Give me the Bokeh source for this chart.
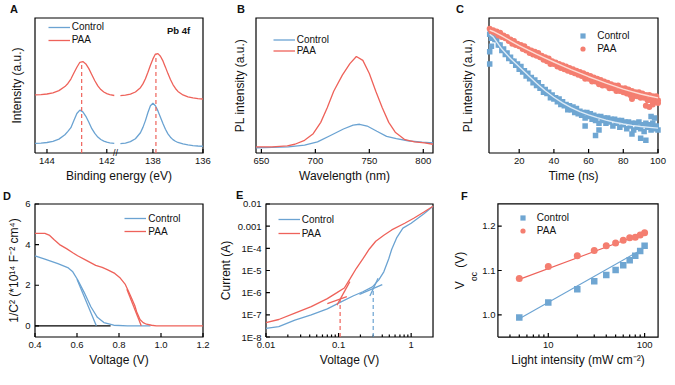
import numpy as np
from bokeh.plotting import figure
from bokeh.models import Range1d, FixedTicker, Label, Legend, LegendItem, Title
from bokeh.layouts import row, column
from bokeh.core.properties import value
from bokeh.embed import file_html
from bokeh.resources import INLINE

# ------------------------------------------------------------------ data
a_be_left = [144.4, 144.2, 144.0, 143.8, 143.6, 143.4, 143.3, 143.2, 143.1, 143.0, 142.9,
             142.8, 142.7, 142.6, 142.5, 142.4, 142.3, 142.2, 142.1, 142.0, 141.9, 141.75]
a_ctrl_left = [0.072, 0.074, 0.078, 0.087, 0.103, 0.135, 0.160, 0.188, 0.240, 0.293, 0.318,
               0.305, 0.272, 0.228, 0.180, 0.145, 0.118, 0.100, 0.088, 0.080, 0.075, 0.071]
a_paa_left = [0.430, 0.432, 0.437, 0.446, 0.462, 0.492, 0.515, 0.548, 0.592, 0.635, 0.672,
              0.677, 0.660, 0.625, 0.580, 0.535, 0.497, 0.470, 0.452, 0.440, 0.432, 0.426]
a_be_right = [139.3, 139.1, 138.9, 138.7, 138.5, 138.4, 138.3, 138.2, 138.1, 138.0, 137.9, 137.8,
              137.7, 137.6, 137.5, 137.4, 137.3, 137.2, 137.1, 137.0, 136.8, 136.6, 136.4, 136.2, 136.0]
a_ctrl_right = [0.070, 0.074, 0.084, 0.106, 0.150, 0.190, 0.240, 0.300, 0.350, 0.368, 0.350, 0.312,
                0.265, 0.218, 0.176, 0.142, 0.117, 0.099, 0.087, 0.078, 0.067, 0.060, 0.055, 0.052, 0.050]
a_paa_right = [0.425, 0.428, 0.436, 0.452, 0.484, 0.512, 0.550, 0.598, 0.650, 0.697, 0.733, 0.736,
               0.717, 0.682, 0.636, 0.588, 0.545, 0.507, 0.478, 0.456, 0.430, 0.416, 0.408, 0.403, 0.400]
a_dash_be = [142.84, 137.88]
a_dash_top = [0.672, 0.733]
a_tick_values = [144, 142, 138, 136]
a_tick_labels = ["144", "142", "138", "136"]

b_wl_paa = [645, 660, 674, 681, 690, 698, 705, 711, 717, 725, 732, 738, 744, 750, 756, 762, 768, 774, 783, 792, 801, 809]
b_paa = [0.046, 0.046, 0.053, 0.065, 0.094, 0.143, 0.227, 0.336, 0.457, 0.577, 0.662, 0.715, 0.686,
         0.589, 0.457, 0.336, 0.227, 0.154, 0.099, 0.082, 0.075, 0.065]
b_wl_ctrl = [645, 660, 675, 690, 702, 714, 726, 735, 741, 748, 757, 766, 775, 787, 799, 809]
b_ctrl = [0.039, 0.042, 0.046, 0.058, 0.082, 0.130, 0.178, 0.207, 0.213, 0.200, 0.161, 0.123, 0.106,
          0.089, 0.080, 0.075]
b_ticks = [650, 700, 750, 800]
b_tick_labels = ["650", "700", "750", "800"]

c_t = list(range(3, 101))
c_ctrl = [0.88, 0.85, 0.87, 0.84, 0.84, 0.80, 0.80, 0.76, 0.77, 0.73,
          0.74, 0.70, 0.71, 0.68, 0.68, 0.65, 0.66, 0.62, 0.64, 0.60,
          0.61, 0.57, 0.59, 0.55, 0.56, 0.52, 0.54, 0.50, 0.52, 0.48,
          0.49, 0.45, 0.47, 0.44, 0.45, 0.41, 0.43, 0.40, 0.41, 0.38,
          0.40, 0.36, 0.38, 0.35, 0.36, 0.32, 0.35, 0.32, 0.34, 0.30,
          0.33, 0.29, 0.31, 0.28, 0.30, 0.26, 0.30, 0.27, 0.29, 0.25,
          0.28, 0.24, 0.27, 0.22, 0.27, 0.24, 0.26, 0.22, 0.26, 0.23,
          0.25, 0.20, 0.25, 0.22, 0.24, 0.19, 0.24, 0.21, 0.23, 0.18,
          0.23, 0.20, 0.22, 0.17, 0.22, 0.19, 0.23, 0.18, 0.21, 0.16,
          0.22, 0.19, 0.21, 0.17, 0.22, 0.18, 0.20, 0.17]
c_ctrl_extra_t = [3, 3, 4, 58, 64, 66, 85, 90, 93, 96, 98]
c_ctrl_extra = [0.75, 0.66, 0.79, 0.20, 0.13, 0.17, 0.14, 0.11, 0.095, 0.27, 0.26]
c_paa = [0.92, 0.90, 0.91, 0.89, 0.90, 0.87, 0.89, 0.86, 0.87, 0.85,
         0.86, 0.83, 0.84, 0.81, 0.83, 0.80, 0.81, 0.79, 0.80, 0.77,
         0.79, 0.76, 0.77, 0.74, 0.76, 0.73, 0.75, 0.72, 0.74, 0.71,
         0.72, 0.69, 0.71, 0.68, 0.70, 0.66, 0.68, 0.66, 0.67, 0.64,
         0.66, 0.63, 0.65, 0.62, 0.64, 0.61, 0.63, 0.60, 0.62, 0.59,
         0.61, 0.58, 0.60, 0.57, 0.59, 0.55, 0.58, 0.55, 0.57, 0.53,
         0.56, 0.53, 0.55, 0.51, 0.54, 0.50, 0.53, 0.50, 0.52, 0.48,
         0.51, 0.48, 0.50, 0.46, 0.50, 0.46, 0.48, 0.45, 0.48, 0.44,
         0.47, 0.43, 0.46, 0.42, 0.45, 0.42, 0.45, 0.41, 0.44, 0.41,
         0.43, 0.39, 0.43, 0.39, 0.42, 0.38, 0.42, 0.39]
c_paa_extra_t = [85, 93, 95, 97, 100]
c_paa_extra = [0.40, 0.35, 0.34, 0.36, 0.37]
c_fit_t = [3, 5, 10, 15, 20, 25, 30, 35, 40, 45, 50, 55, 60, 65, 70, 75, 80, 85, 90, 95, 100]
c_fit_ctrl = [0.88, 0.86, 0.77, 0.70, 0.638, 0.577, 0.517, 0.461, 0.413, 0.372, 0.336, 0.307, 0.283,
              0.262, 0.244, 0.228, 0.215, 0.205, 0.196, 0.190, 0.184]
c_fit_paa = [0.91, 0.90, 0.867, 0.831, 0.795, 0.763, 0.732, 0.703, 0.674, 0.646, 0.618, 0.591, 0.565,
             0.541, 0.517, 0.495, 0.473, 0.455, 0.437, 0.422, 0.408]
c_ticks = [20, 40, 60, 80, 100]
c_tick_labels = ["20", "40", "60", "80", "100"]

d_v_paa = [0.40, 0.447, 0.47, 0.49, 0.517, 0.55, 0.58, 0.603, 0.64, 0.689, 0.72, 0.744, 0.78, 0.806,
           0.83, 0.845, 0.861, 0.875, 0.884, 0.90, 0.915, 0.931, 0.955, 0.978, 1.05, 1.2]
d_paa = [4.55, 4.55, 4.45, 4.25, 4.00, 3.80, 3.60, 3.45, 3.25, 2.98, 2.88, 2.77, 2.58, 2.35,
         2.04, 1.70, 1.33, 1.00, 0.70, 0.31, 0.16, 0.08, 0.03, 0.0, 0.0, 0.0]
d_v_ctrl = [0.40, 0.447, 0.509, 0.556, 0.58, 0.603, 0.634, 0.666, 0.697, 0.728, 0.775, 0.84, 0.95]
d_ctrl = [3.45, 3.29, 3.06, 2.87, 2.66, 2.27, 1.65, 0.94, 0.42, 0.16, 0.03, 0.0, 0.0]
d_fit_ctrl_v = [0.600, 0.692]
d_fit_ctrl = [2.30, 0.0]
d_fit_paa_v = [0.8375, 0.906]
d_fit_paa = [1.80, 0.0]
d_zero_v = [0.40, 0.76]
d_zero = [0.0, 0.0]
d_xticks = [0.4, 0.6, 0.8, 1.0, 1.2]
d_xlabels = ["0.4", "0.6", "0.8", "1.0", "1.2"]
d_yticks = [0, 2, 4, 6]

e_v_paa = [0.01, 0.015, 0.025, 0.042, 0.07, 0.095, 0.12, 0.143, 0.175, 0.216, 0.264, 0.325, 0.42,
           0.54, 0.815, 1.1, 1.5, 2.0]
e_paa = [4.47e-8, 6.17e-8, 1.20e-7, 2.34e-7, 5.37e-7, 1.00e-6, 1.62e-6, 4.07e-6, 1.23e-5, 3.31e-5,
         9.12e-5, 2.09e-4, 3.89e-4, 6.76e-4, 1.35e-3, 2.34e-3, 4.37e-3, 7.94e-3]
e_v_ctrl = [0.01, 0.015, 0.025, 0.042, 0.07, 0.105, 0.158, 0.216, 0.293, 0.358, 0.42, 0.49, 0.54,
            0.63, 0.77, 1.0, 1.5, 2.0]
e_ctrl = [2.45e-8, 2.95e-8, 5.75e-8, 1.00e-7, 1.86e-7, 3.63e-7, 7.08e-7, 1.10e-6, 1.82e-6, 3.80e-6,
          8.71e-6, 3.31e-5, 9.12e-5, 2.95e-4, 8.13e-4, 1.35e-3, 3.63e-3, 7.94e-3]
e_fit_paa_ohm_v = [0.07, 0.13]
e_fit_paa_ohm = [3.24e-7, 6.60e-7]
e_fit_paa_tfl_v = [0.095, 0.143]
e_fit_paa_tfl = [2.75e-7, 3.16e-6]
e_fit_ctrl_ohm_v = [0.194, 0.40]
e_fit_ctrl_ohm = [8.30e-7, 2.29e-6]
e_fit_ctrl_tfl_v = [0.27, 0.35]
e_fit_ctrl_tfl = [7.08e-7, 4.47e-6]
e_vtfl = [0.105, 0.30]
e_vtfl_top = [5.0e-7, 1.5e-6]
e_xticks = [0.01, 0.1, 1.0]
e_xlabels = ["0.01", "0.1", "1"]
e_xminor = [0.02, 0.03, 0.04, 0.05, 0.06, 0.07, 0.08, 0.09, 0.2, 0.3, 0.4, 0.5, 0.6, 0.7, 0.8, 0.9]
e_yticks = [1e-8, 1e-7, 1e-6, 1e-5, 1e-4, 1e-3, 1e-2]
e_ylabels = ["1E-8", "1E-7", "1E-6", "1E-5", "1E-4", "0.001", "0.01"]

f_light = [5, 10, 20, 30, 40, 50, 60, 70, 80, 90, 100]
f_ctrl = [0.994, 1.028, 1.058, 1.076, 1.090, 1.101, 1.112, 1.123, 1.133, 1.144, 1.156]
f_paa = [1.082, 1.109, 1.133, 1.145, 1.156, 1.162, 1.168, 1.174, 1.175, 1.180, 1.185]
f_fit_x = [5, 100]
f_fit_ctrl = [0.991, 1.151]
f_fit_paa = [1.080, 1.185]
f_xticks = [10, 100]
f_xlabels = ["10", "100"]
f_xminor = [4, 5, 6, 7, 8, 9, 20, 30, 40, 50, 60, 70, 80, 90]
f_yticks = [1.0, 1.1, 1.2]
f_ylabels = ["1.0", "1.1", "1.2"]

# ------------------------------------------------------------------ style
FONT = "Liberation Sans"
BLUE = "#6BA3D2"
RED = "#EE625A"
BLUE_PT = "#6FA6D2"
RED_PT = "#F47E70"
BLUE_FIT = "#DCEAF6"
RED_FIT = "#FDDCD5"
INK = "#111111"
LW = 1.3
BOX_W = 1.2
NB = "\u00a0"


class Axis1D:
    """Maps pixel offsets to data offsets for one (slightly padded) dimension."""

    def __init__(self, lo, hi, npx, log=False, pad=1.5):
        self.lo, self.hi, self.log = float(lo), float(hi), log
        a, b = (np.log10(lo), np.log10(hi)) if log else (float(lo), float(hi))
        self.per_px = (b - a) / (npx - 2 * pad)
        d = self.per_px * pad
        if log:
            self.range = Range1d(float(10 ** (a - d)), float(10 ** (b + d)))
        else:
            self.range = Range1d(float(a - d), float(b + d))

    def shift(self, v, px):
        if self.log:
            return float(10 ** (np.log10(v) + px * self.per_px))
        return float(v + px * self.per_px)


def styled(width, height, left, right, top, bottom, xa, ya):
    p = figure(width=width, height=height, x_range=xa.range, y_range=ya.range,
               x_axis_type="log" if xa.log else "linear",
               y_axis_type="log" if ya.log else "linear",
               output_backend="svg", toolbar_location=None,
               min_border_left=left, min_border_right=right,
               min_border_top=top, min_border_bottom=bottom)
    p.outline_line_color = None
    p.xgrid.visible = False
    p.ygrid.visible = False
    for ax in p.axis:
        ax.axis_line_color = None
        ax.major_tick_line_color = None
        ax.minor_tick_line_color = None
        ax.major_tick_in = 0
        ax.major_tick_out = 0
        ax.minor_tick_in = 0
        ax.minor_tick_out = 0
        ax.major_label_text_font = FONT
        ax.major_label_text_font_size = "9.5px"
        ax.major_label_text_color = INK
        ax.major_label_standoff = 3
        ax.axis_label_text_font = FONT
        ax.axis_label_text_font_size = "12px"
        ax.axis_label_text_font_style = "normal"
        ax.axis_label_text_color = INK
        ax.axis_label_standoff = 2
    return p


def blank_yaxis(p, mid, label_standoff):
    """A y axis that shows only its title (one blank tick label keeps the layout regular)."""
    p.yaxis.ticker = FixedTicker(ticks=[mid])
    p.yaxis.major_label_overrides = {mid: NB}
    p.yaxis.major_label_standoff = 0
    p.yaxis.axis_label_standoff = label_standoff


def frame_ticks(p, xa, ya, xt=(), yt=(), xm=()):
    """Axis box (closed polyline) plus inward tick marks, drawn on the plot scales."""
    xt = [float(v) for v in xt]
    yt = [float(v) for v in yt]
    xm = [float(v) for v in xm]
    p.line(x=[xa.lo, xa.hi, xa.hi, xa.lo, xa.lo], y=[ya.lo, ya.lo, ya.hi, ya.hi, ya.lo],
           line_color="#000000", line_width=BOX_W, line_join="miter")
    for v in xt:
        p.line(x=[v, v], y=[ya.lo, ya.shift(ya.lo, 4)], line_color="#000000", line_width=BOX_W)
    for v in xm:
        p.line(x=[v, v], y=[ya.lo, ya.shift(ya.lo, 2.5)], line_color="#000000", line_width=BOX_W)
    for v in yt:
        p.line(x=[xa.lo, xa.shift(xa.lo, 4)], y=[v, v], line_color="#000000", line_width=BOX_W)


def add_legend(p, items, vx, vy, gw, gh, spacing, standoff):
    leg = Legend(items=[LegendItem(label=l, renderers=[r]) for l, r in items],
                 location=(vx, vy), orientation="vertical",
                 glyph_width=gw, glyph_height=gh, label_height=gh, label_width=10,
                 spacing=spacing, padding=0, margin=0, label_standoff=standoff,
                 border_line_color=None, background_fill_alpha=0,
                 label_text_font=FONT, label_text_font_size="10px", label_text_color=INK)
    p.add_layout(leg)


def letter(p, txt, offset, standoff):
    p.title.text = txt
    p.title.align = "left"
    p.title.offset = offset
    p.title.standoff = standoff
    p.title.text_font = FONT
    p.title.text_font_size = "11px"
    p.title.text_font_style = "bold"
    p.title.text_color = INK


def overrides(ticks, labels):
    return {t: l for t, l in zip(ticks, labels)}


ROW1_PAD = 3.5

# ------------------------------------------------------------------ A
def a_map(be):
    be = np.asarray(be, dtype=float)
    return np.where(be > 140.6, (144.4 - be) * 30.5, 82.0 + (139.5 - be) * 25.5)


xA, yA = Axis1D(0, 171.3, 175, pad=ROW1_PAD), Axis1D(0, 1, 143, pad=ROW1_PAD)
pA = styled(225, 185, 31, 19, 13, 29, xA, yA)
a_tick_pos = [float(v) for v in a_map(a_tick_values)]
pA.xaxis.ticker = FixedTicker(ticks=a_tick_pos)
pA.xaxis.major_label_overrides = overrides(a_tick_pos, a_tick_labels)
pA.xaxis.major_label_standoff = 1
blank_yaxis(pA, 0.5, 2)
pA.xaxis.axis_label = "Binding energy (eV)"
pA.yaxis.axis_label = "Intensity (a.u.)"
frame_ticks(pA, xA, yA, xt=a_tick_pos)
rAc = pA.line(a_map(a_be_left), a_ctrl_left, line_color=BLUE, line_width=LW)
pA.line(a_map(a_be_right), a_ctrl_right, line_color=BLUE, line_width=LW)
rAp = pA.line(a_map(a_be_left), a_paa_left, line_color=RED, line_width=LW)
pA.line(a_map(a_be_right), a_paa_right, line_color=RED, line_width=LW)
a_dash_x = [float(v) for v in a_map(a_dash_be)]
pA.segment(x0=a_dash_x, y0=[0.0, 0.0], x1=a_dash_x, y1=a_dash_top, line_color=RED,
           line_width=1.2, line_dash="4 3")
pA.text(x=[82.2], y=[0.0], text=["//"], text_font=value(FONT), text_font_size="9px",
        text_color=INK, text_align="center", text_baseline="middle")
pA.add_layout(Label(x=147, y=126, x_units="screen", y_units="screen", text="Pb 4f",
                    text_font=FONT, text_font_size="9.5px", text_font_style="bold",
                    text_color=INK, text_align="center", text_baseline="middle"))
add_legend(pA, [("Control", rAc), ("PAA", rAp)], 16.7, 110.3, 22, 12, 1, 2)
letter(pA, "A", -21.6, 0)

# ------------------------------------------------------------------ B
xB, yB = Axis1D(645, 809, 184, pad=ROW1_PAD), Axis1D(0, 1, 143, pad=ROW1_PAD)
pB = styled(225, 185, 27, 14, 13, 29, xB, yB)
pB.xaxis.ticker = FixedTicker(ticks=b_ticks)
pB.xaxis.major_label_overrides = overrides(b_ticks, b_tick_labels)
pB.xaxis.major_label_standoff = 1
blank_yaxis(pB, 0.5, 0)
pB.xaxis.axis_label = "Wavelength (nm)"
pB.yaxis.axis_label = "PL intensity (a.u.)"
frame_ticks(pB, xB, yB, xt=b_ticks)
rBc = pB.line(b_wl_ctrl, b_ctrl, line_color=BLUE, line_width=LW)
rBp = pB.line(b_wl_paa, b_paa, line_color=RED, line_width=LW)
add_legend(pB, [("Control", rBc), ("PAA", rBp)], 20.7, 99.9, 22, 11, 0, 2)
letter(pB, "B", -15.6, 0)

# ------------------------------------------------------------------ C
xC, yC = Axis1D(2.6, 100, 176, pad=ROW1_PAD), Axis1D(0, 1, 143, pad=ROW1_PAD)
pC = styled(225, 185, 35, 14, 13, 29, xC, yC)
pC.xaxis.ticker = FixedTicker(ticks=c_ticks)
pC.xaxis.major_label_overrides = overrides(c_ticks, c_tick_labels)
pC.xaxis.major_label_standoff = 1
blank_yaxis(pC, 0.5, 5)
pC.xaxis.axis_label = "Time (ns)"
pC.yaxis.axis_label = "PL intensity (a.u.)"
frame_ticks(pC, xC, yC, xt=c_ticks)
rCc = pC.scatter(c_t + c_ctrl_extra_t, c_ctrl + c_ctrl_extra, marker="square", size=5.5,
                 fill_color=BLUE_PT, line_color=None)
rCp = pC.scatter(c_t + c_paa_extra_t, c_paa + c_paa_extra, marker="circle", size=6,
                 fill_color=RED_PT, line_color=None)
pC.line(c_fit_t, c_fit_ctrl, line_color=BLUE_FIT, line_width=1.4)
pC.line(c_fit_t, c_fit_paa, line_color=RED_FIT, line_width=1.4)
add_legend(pC, [("Control", rCc), ("PAA", rCp)], 91.2, 101.5, 13, 13, 0, 8)
letter(pC, "C", -29.6, 0)

# ------------------------------------------------------------------ D
xD, yD = Axis1D(0.4, 1.2, 171), Axis1D(-0.55, 6, 138)
pD = styled(215, 200, 33, 11, 15, 47, xD, yD)
pD.xaxis.ticker = FixedTicker(ticks=d_xticks)
pD.xaxis.major_label_overrides = overrides(d_xticks, d_xlabels)
pD.yaxis.ticker = FixedTicker(ticks=d_yticks)
pD.yaxis.axis_label_standoff = 1
pD.xaxis.axis_label = "Voltage (V)"
pD.yaxis.axis_label = "1/C² (*10¹⁴ F⁻² cm⁴)"
frame_ticks(pD, xD, yD, xt=d_xticks, yt=d_yticks)
pD.line(d_zero_v, d_zero, line_color="black", line_width=LW)
rDc = pD.line(d_v_ctrl, d_ctrl, line_color=BLUE, line_width=LW)
pD.line(d_fit_ctrl_v, d_fit_ctrl, line_color=BLUE, line_width=LW)
rDp = pD.line(d_v_paa, d_paa, line_color=RED, line_width=LW)
pD.line(d_fit_paa_v, d_fit_paa, line_color=RED, line_width=LW)
add_legend(pD, [("Control", rDc), ("PAA", rDp)], 91.3, 101, 22, 12, 1, 2)
letter(pD, "D", -30.6, 2)

# ------------------------------------------------------------------ E
xE, yE = Axis1D(0.01, 2, 172, log=True), Axis1D(1e-8, 1e-2, 138, log=True)
pE = styled(235, 200, 47, 16, 15, 47, xE, yE)
pE.xaxis.ticker = FixedTicker(ticks=e_xticks)
pE.xaxis.major_label_overrides = overrides(e_xticks, e_xlabels)
pE.yaxis.ticker = FixedTicker(ticks=e_yticks)
pE.yaxis.major_label_overrides = overrides(e_yticks, e_ylabels)
pE.xaxis.axis_label = "Voltage (V)"
pE.yaxis.axis_label = "Current (A)"
frame_ticks(pE, xE, yE, xt=e_xticks, yt=e_yticks, xm=e_xminor)
rEc = pE.line(e_v_ctrl, e_ctrl, line_color=BLUE, line_width=LW)
rEp = pE.line(e_v_paa, e_paa, line_color=RED, line_width=LW)
pE.line(e_fit_paa_ohm_v, e_fit_paa_ohm, line_color=RED, line_width=LW)
pE.line(e_fit_paa_tfl_v, e_fit_paa_tfl, line_color=RED, line_width=LW)
pE.line(e_fit_ctrl_ohm_v, e_fit_ctrl_ohm, line_color=BLUE, line_width=LW)
pE.line(e_fit_ctrl_tfl_v, e_fit_ctrl_tfl, line_color=BLUE, line_width=LW)
pE.segment(x0=e_vtfl[:1], y0=[1e-8], x1=e_vtfl[:1], y1=e_vtfl_top[:1], line_color=RED,
           line_width=1.2, line_dash="4 3")
pE.segment(x0=e_vtfl[1:], y0=[1e-8], x1=e_vtfl[1:], y1=e_vtfl_top[1:], line_color=BLUE,
           line_width=1.2, line_dash="4 3")
add_legend(pE, [("Control", rEc), ("PAA", rEp)], 13.7, 98.7, 22, 12, 2, 2)
letter(pE, "E", -28.6, 3)

# ------------------------------------------------------------------ F
xF, yF = Axis1D(3, 138, 172, log=True), Axis1D(0.95, 1.25, 139)
pF = styled(225, 200, 37, 16, 14, 47, xF, yF)
pF.xaxis.ticker = FixedTicker(ticks=f_xticks)
pF.xaxis.major_label_overrides = overrides(f_xticks, f_xlabels)
pF.yaxis.ticker = FixedTicker(ticks=f_yticks)
pF.yaxis.major_label_overrides = overrides(f_yticks, f_ylabels)
pF.yaxis.major_label_standoff = 1
pF.xaxis.axis_label = "Light intensity (mW cm⁻²)"
# y-axis label "V_oc (V)": subscript as the axis label, main text as an outer side title
pF.yaxis.axis_label = "oc" + NB * 5
pF.yaxis.axis_label_text_font_size = "8.5px"
pF.yaxis.axis_label_standoff = 0
pF.add_layout(Title(text="V" + NB * 4 + "(V)", align="center", standoff=0,
                    text_font=FONT, text_font_size="12px", text_font_style="normal",
                    text_color=INK), "left")
frame_ticks(pF, xF, yF, xt=f_xticks, yt=f_yticks, xm=f_xminor)
pF.line(f_fit_x, f_fit_ctrl, line_color=BLUE, line_width=1.1)
pF.line(f_fit_x, f_fit_paa, line_color=RED, line_width=1.1)
rFc = pF.scatter(f_light, f_ctrl, marker="square", size=6.5, fill_color=BLUE_PT, line_color=None)
rFp = pF.scatter(f_light, f_paa, marker="circle", size=7, fill_color=RED_PT, line_color=None)
add_legend(pF, [("Control", rFc), ("PAA", rFp)], 19.8, 101.5, 13, 13, 0, 8)
letter(pF, "F", -35.6, 1)

layout = column(row(pA, pB, pC), row(pD, pE, pF))
open("out.html", "w").write(file_html(layout, INLINE))
